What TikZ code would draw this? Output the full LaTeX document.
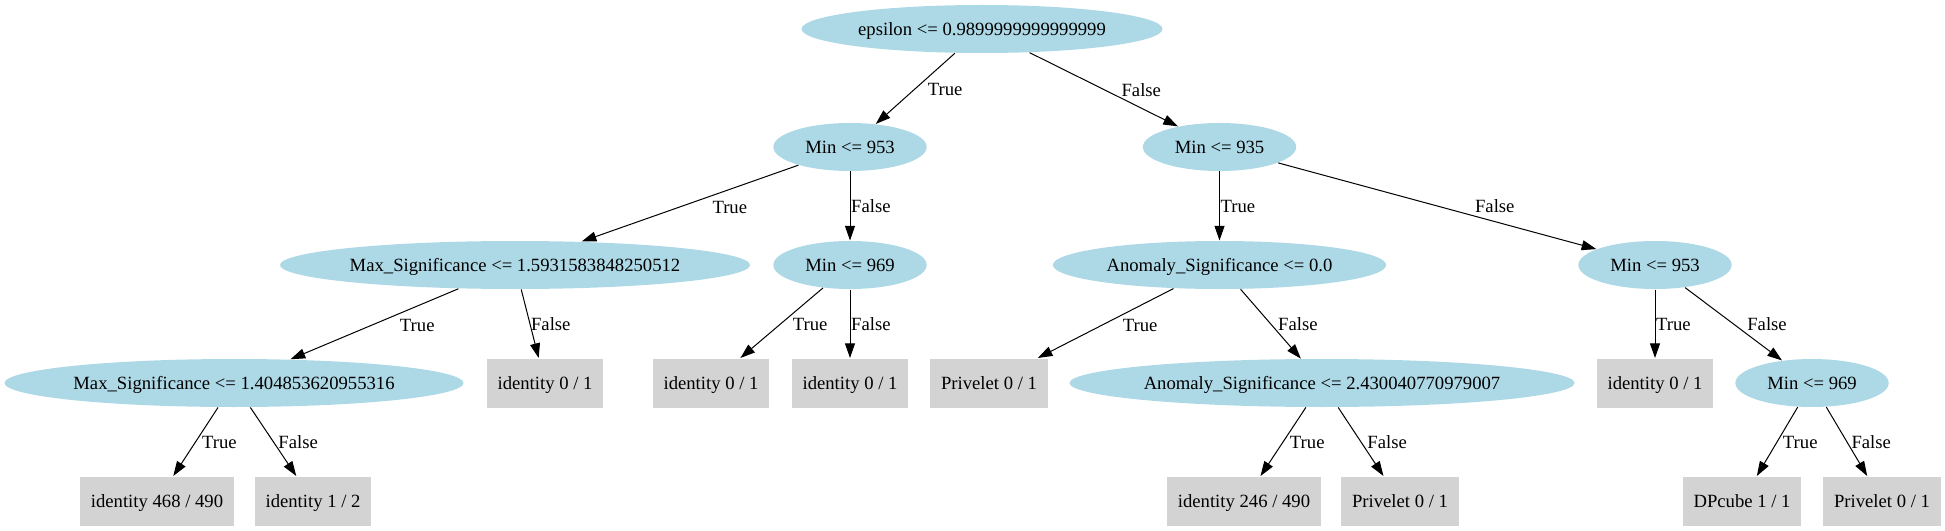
\documentclass[tikz,border=0pt]{standalone}
\usepackage{fontspec}
\setmainfont{Liberation Serif}
\usetikzlibrary{shapes.geometric,arrows.meta}
\definecolor{splitblue}{RGB}{173,216,230}
\definecolor{leafgray}{RGB}{211,211,211}
\begin{document}
\begin{tikzpicture}
			[x=0.75pt,y=-0.75pt,font=\fontsize{14pt}{16pt}\selectfont,
			every node/.style={text height=12.8pt,text depth=3pt},
			split/.style={ellipse,fill=splitblue,inner xsep=0pt,inner ysep=0pt,minimum height=36pt,minimum width=115pt},
			leaf/.style={rectangle,fill=leafgray,inner xsep=8pt,inner ysep=0pt,minimum height=36.75pt,minimum width=86pt},
			lbl/.style={midway,right,inner sep=0pt},
			>={Triangle[length=11pt,width=7.5pt]},line width=0.75pt]
			\useasboundingbox(0,0)rectangle(1945,531);
			% splits
			\node[split,name=root,minimum width=270.75pt]at(982,29){epsilon <= 0.9899999999999999};
			\node[split,name=minA]at(850,147){Min <= 953};
			\node[split,name=minR]at(1219.5,147){Min <= 935};
			\node[split,name=maxA,minimum width=352.5pt]at(515,265){Max\_Significance <= 1.5931583848250512};
			\node[split,name=minB]at(850,265){Min <= 969};
			\node[split,name=anomA,minimum width=250pt]at(1219.5,265){Anomaly\_Significance <= 0.0};
			\node[split,name=minC]at(1655,265){Min <= 953};
			\node[split,name=maxB,minimum width=344.25pt]at(234,383){Max\_Significance <= 1.404853620955316};
			\node[split,name=anomB,minimum width=378.75pt]at(1322,383){Anomaly\_Significance <= 2.430040770979007};
			\node[split,name=minD]at(1812,383){Min <= 969};
			% leaves
			\node[leaf,name=idA]at(545,383){identity 0 / 1};
			\node[leaf,name=idB]at(711,383){identity 0 / 1};
			\node[leaf,name=idC]at(850,383){identity 0 / 1};
			\node[leaf,name=privA]at(989,383){Privelet 0 / 1};
			\node[leaf,name=idD]at(1655,383){identity 0 / 1};
			\node[leaf,name=idE]at(157,501){identity 468 / 490};
			\node[leaf,name=idF]at(313,501){identity 1 / 2};
			\node[leaf,name=idG]at(1244,501){identity 246 / 490};
			\node[leaf,name=privB]at(1400,501){Privelet 0 / 1};
			\node[leaf,name=dpc]at(1742,501){DPcube 1 / 1};
			\node[leaf,name=privC]at(1882,501){Privelet 0 / 1};
			% edges
			\draw[->](root)--node[lbl,xshift=9pt]{True}(minA);
			\draw[->](root)--node[lbl,xshift=13pt]{False}(minR);
			\draw[->](minA)--node[lbl,xshift=16.5pt,yshift=-2.5pt]{True}(maxA);
			\draw[->](minA)--node[lbl,xshift=0.5pt]{False}(minB);
			\draw[->](minR)--node[lbl,xshift=0.5pt]{True}(anomA);
			\draw[->](minR)--node[lbl,xshift=28pt]{False}(minC);
			\draw[->](maxA)--node[lbl,xshift=18.75pt,yshift=-1pt]{True}(maxB);
			\draw[->](maxA)--node[lbl,xshift=0.5pt]{False}(idA);
			\draw[->](minB)--node[lbl,xshift=8pt,yshift=-1pt]{True}(idB);
			\draw[->](minB)--node[lbl,xshift=0.5pt]{False}(idC);
			\draw[->](anomA)--node[lbl,xshift=12.5pt,yshift=-1pt]{True}(privA);
			\draw[->](anomA)--node[lbl,xshift=5.25pt]{False}(anomB);
			\draw[->](minC)--node[lbl,xshift=0.5pt]{True}(idD);
			\draw[->](minC)--node[lbl,xshift=10pt]{False}(minD);
			\draw[->](maxB)--node[lbl,xshift=4.4pt]{True}(idE);
			\draw[->](maxB)--node[lbl,xshift=3.5pt]{False}(idF);
			\draw[->](anomB)--node[lbl,xshift=4.7pt]{True}(idG);
			\draw[->](anomB)--node[lbl,xshift=4.6pt]{False}(privB);
			\draw[->](minD)--node[lbl,xshift=3.9pt]{True}(dpc);
			\draw[->](minD)--node[lbl,xshift=3.2pt]{False}(privC);
		\end{tikzpicture}
\end{document}
